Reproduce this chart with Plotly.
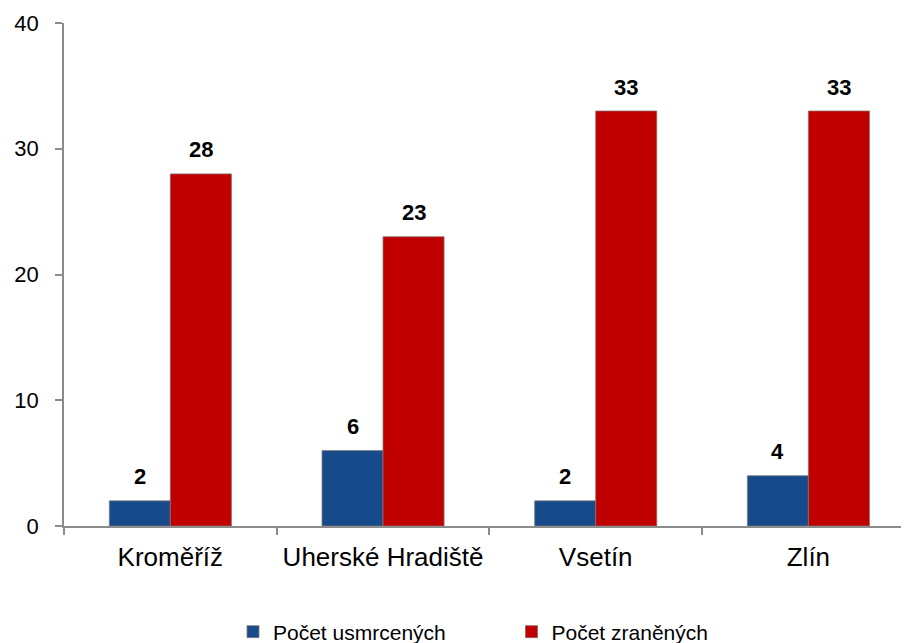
import plotly.graph_objects as go

categories = ["Kroměříž", "Uherské Hradiště", "Vsetín", "Zlín"]
usmrceni = [2, 6, 2, 4]
zraneni = [28, 23, 33, 33]
series_names = ["Počet usmrcených", "Počet zraněných"]
y_ticks = [0, 10, 20, 30, 40]

BLUE = "#174A8A"
RED = "#C00000"
FONT = "Liberation Sans, Arial, sans-serif"

fig = go.Figure()
fig.add_trace(go.Bar(x=categories, y=usmrceni, name=series_names[0],
                     marker=dict(color=BLUE, line=dict(color="#7f7f7f", width=0.8))))
fig.add_trace(go.Bar(x=categories, y=zraneni, name=series_names[1],
                     marker=dict(color=RED, line=dict(color="#8c6a6a", width=0.8))))

for vals, shift in ((usmrceni, -30.5), (zraneni, 30.5)):
    for c, v in zip(categories, vals):
        fig.add_annotation(x=c, y=v, text=f"<b>{v}</b>", showarrow=False,
                           xshift=shift, yshift=24, yanchor="middle",
                           font=dict(family=FONT, size=22, color="black"))

# page body has an 8px default margin; figure offset accounted for in margins
fig.update_layout(
    width=901, height=660,
    margin=dict(l=56, r=0, t=15, b=142),
    paper_bgcolor="white", plot_bgcolor="white",
    barmode="group", bargap=0.426, bargroupgap=0,
    font=dict(family=FONT, color="black"),
    showlegend=True,
    legend=dict(orientation="h", x=0.2, xanchor="left", y=-0.2107, yanchor="middle",
                font=dict(family=FONT, size=21), entrywidth=233.5, entrywidthmode="pixels",
                itemwidth=30, traceorder="normal"),
)
fig.update_xaxes(range=[-0.5, 3.473], showline=True, linecolor="#8c8c8c", linewidth=1.5,
                 ticks="outside", tickson="boundaries", ticklen=7, tickcolor="#8c8c8c",
                 tickwidth=1.5, tickfont=dict(family=FONT, size=26), ticklabelstandoff=7,
                 showgrid=False, zeroline=False, automargin=False)
fig.update_yaxes(range=[0, 40], tickvals=y_ticks, showline=True, linecolor="#8c8c8c",
                 linewidth=1.5, ticks="outside", ticklen=7, tickcolor="#8c8c8c", tickwidth=1.5,
                 tickfont=dict(family=FONT, size=22), ticklabelstandoff=12,
                 showgrid=False, zeroline=False, automargin=False)

fig.write_html("out.html")
